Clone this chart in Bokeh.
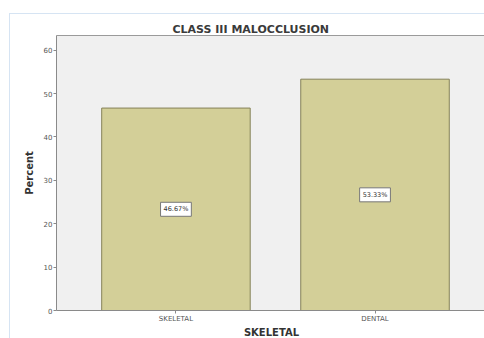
from bokeh.plotting import figure
from bokeh.models import ColumnDataSource, Range1d, FixedTicker, LinearAxis
from bokeh.core.properties import value
from bokeh.embed import file_html
from bokeh.resources import INLINE

categories = ["SKELETAL", "DENTAL"]
percents = [46.67, 53.33]
pct_labels = ["46.67%", "53.33%"]
y_ticks = [0, 10, 20, 30, 40, 50, 60]

xpos = [i + 0.5 for i in range(len(categories))]
src = ColumnDataSource(dict(x=xpos, top=percents, mid=[v / 2 for v in percents], lab=pct_labels))

FONT = "DejaVu Sans"

p = figure(width=475, height=325, output_backend="svg", toolbar_location=None,
           x_range=Range1d(-0.1, 2.06), y_range=Range1d(0, 63.4),
           min_border_left=46, min_border_right=0, min_border_top=21, min_border_bottom=27,
           title="CLASS III MALOCCLUSION")
p.styles = {"margin-left": "9px", "margin-top": "13px", "border-left": "1px solid #d6e4f3",
            "border-top": "1px solid #d6e4f3", "box-sizing": "content-box"}
p.title.align = "left"
p.title.offset = 116
p.title.text_font = FONT
p.title.text_font_size = "11px"
p.title.text_font_style = "bold"
p.title.text_color = "#3a3a3a"
p.title.standoff = 0

p.background_fill_color = "#f0f0f0"
p.border_fill_color = "white"
p.outline_line_color = None
p.grid.visible = False

p.vbar(x="x", top="top", bottom=0, width=0.746, source=src,
       fill_color="#d3cf98", line_color="#858259", line_width=1)

p.text(x="x", y="mid", text="lab", source=src, text_align="center",
       text_baseline="middle", text_font_size="6.5px", text_color="#333333",
       background_fill_color="white", border_line_color="#777777",
       border_line_width=1, text_font=value(FONT), padding=3)

xax = p.below[0]
yax = p.left[0]
xax.ticker = FixedTicker(ticks=xpos)
xax.major_label_overrides = {x: c for x, c in zip(xpos, categories)}
yax.ticker = FixedTicker(ticks=y_ticks)
xax.axis_label = "SKELETAL"
yax.axis_label = "Percent"
for ax in (xax, yax):
    ax.axis_line_color = "#8a8a8a"
    ax.major_tick_line_color = "#8a8a8a"
    ax.major_tick_in = 0
    ax.major_tick_out = 3
    ax.minor_tick_line_color = None
    ax.major_label_text_font_size = "7px"
    ax.major_label_text_color = "#555555"
    ax.major_label_text_font = FONT
    ax.axis_label_text_font = FONT
    ax.axis_label_text_font_size = "10px"
    ax.axis_label_text_font_style = "bold"
    ax.axis_label_text_color = "#333333"
    ax.major_label_standoff = 1
xax.axis_label_standoff = 1
yax.axis_label_standoff = 6

top_axis = LinearAxis(ticker=FixedTicker(ticks=[]), major_label_text_font_size="0px",
                      axis_line_color="#9a9a9a", major_tick_line_color=None,
                      minor_tick_line_color=None, major_label_standoff=0)
p.add_layout(top_axis, "above")

open("out.html", "w").write(file_html(p, INLINE))
